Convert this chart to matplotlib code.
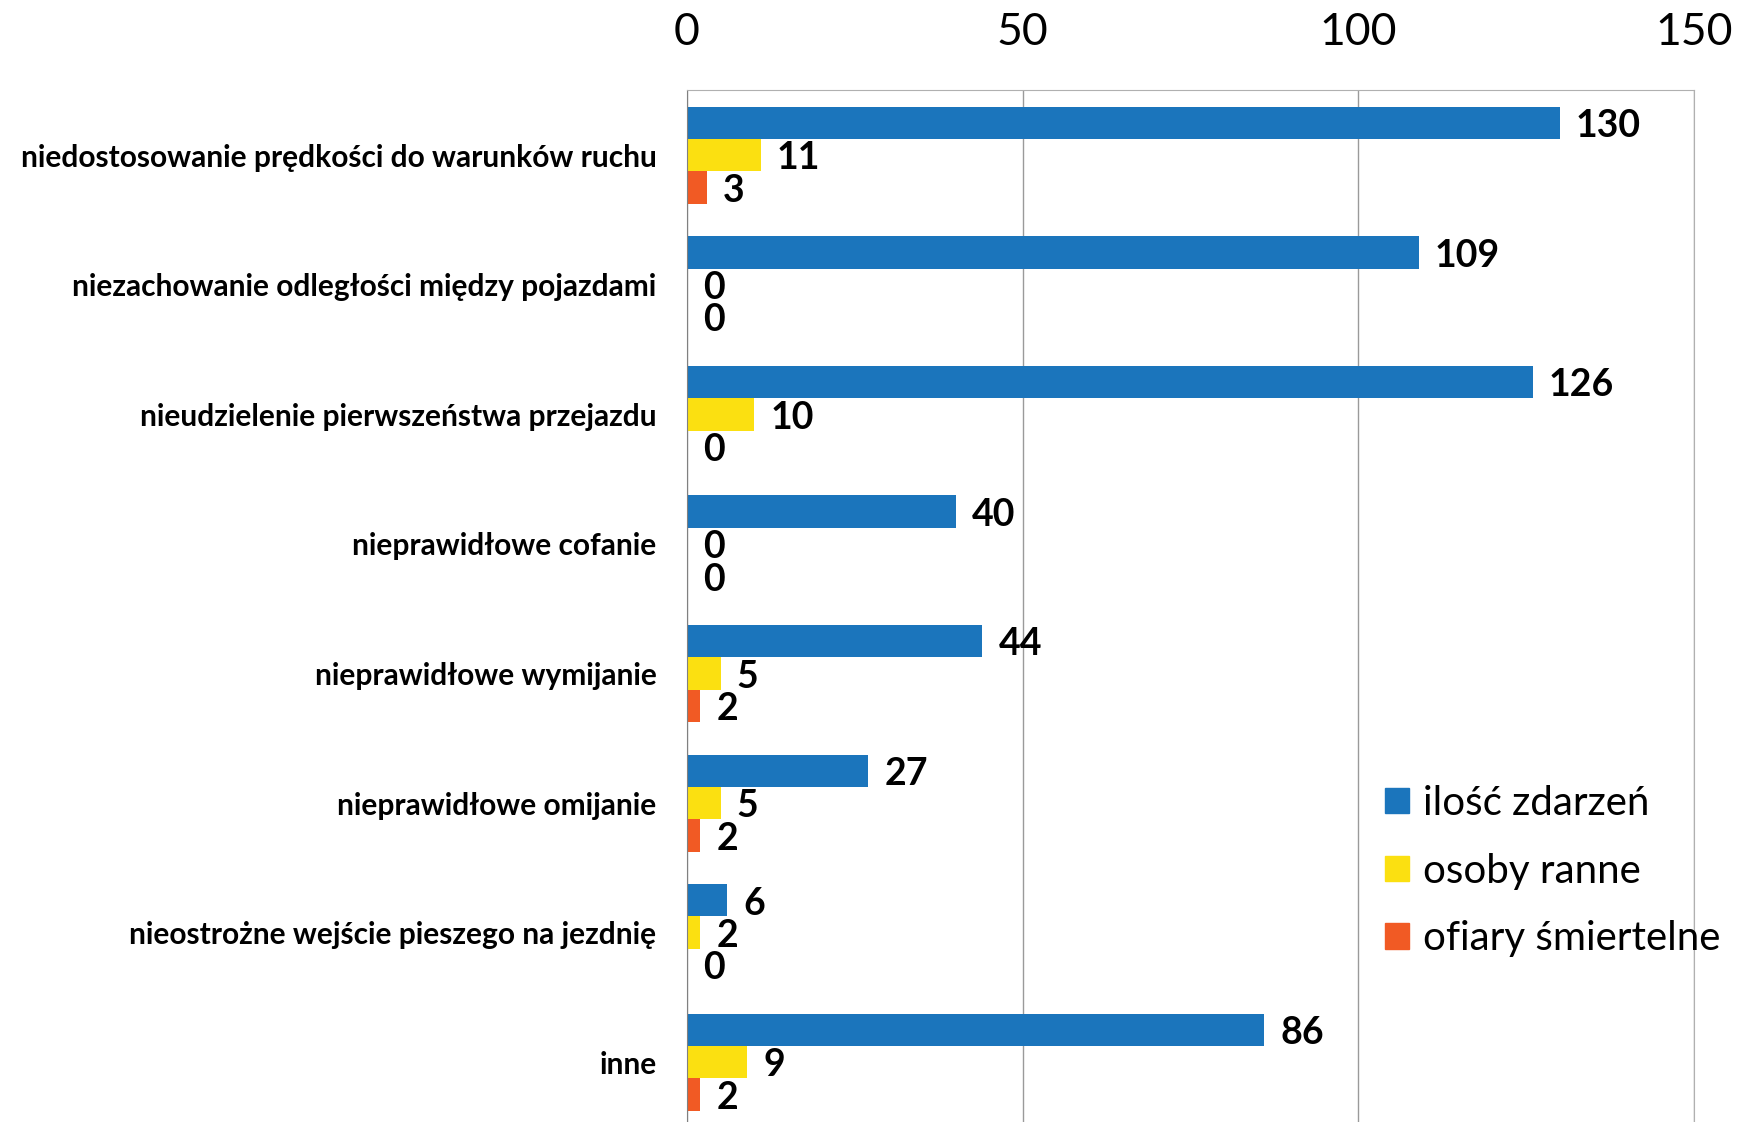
import numpy as np
import matplotlib.pyplot as plt
from matplotlib.patches import Patch

plt.rcParams['font.family'] = ['Lato', 'DejaVu Sans']

categories = [
    'niedostosowanie prędkości do warunków ruchu',
    'niezachowanie odległości między pojazdami',
    'nieudzielenie pierwszeństwa przejazdu',
    'nieprawidłowe cofanie',
    'nieprawidłowe wymijanie',
    'nieprawidłowe omijanie',
    'nieostrożne wejście pieszego na jezdnię',
    'inne',
]
zdarzenia = [130, 109, 126, 40, 44, 27, 6, 86]
ranne = [11, 0, 10, 0, 5, 5, 2, 9]
smiertelne = [3, 0, 0, 0, 2, 2, 0, 2]

series = [
    ('ilość zdarzeń', zdarzenia, '#1b75bc'),
    ('osoby ranne', ranne, '#fbe011'),
    ('ofiary śmiertelne', smiertelne, '#f15a24'),
]

fig = plt.figure(figsize=(17.38, 11.22), dpi=100)
ax = fig.add_axes([0.3953, -0.0045, 0.5794, 0.9239])

y = np.arange(len(categories))
h = 0.25
for k, (name, vals, col) in enumerate(series):
    pos = y + (k - 1) * h
    ax.barh(pos, vals, height=h, color=col, label=name, zorder=2)
    for p, v in zip(pos, vals):
        ax.text(v + 2.4, p + 0.025, str(v), va='center', ha='left',
                fontsize=27, fontweight='bold', color='black', zorder=3)

ax.set_xlim(0, 150)
ax.set_ylim(len(categories) - 0.5, -0.5)
ax.set_xticks([0, 50, 100, 150])
ax.xaxis.tick_top()
ax.tick_params(axis='x', length=0, pad=27, labelsize=32)
ax.set_yticks(y)
ax.set_yticklabels(categories, fontsize=21.5, fontweight='bold')
ax.tick_params(axis='y', length=0, pad=22)
ax.grid(axis='x', color='#9a9a9a', linewidth=1, zorder=0)

for s in ['top', 'right', 'bottom']:
    ax.spines[s].set_color('#b0b0b0')
ax.spines['left'].set_color('#808080')

handles = [Patch(color=c, label=n) for n, _, c in series]
ax.legend(handles=handles, loc='center left', bbox_to_anchor=(0.657, 0.247),
          frameon=False, fontsize=29, handlelength=0.6, handleheight=0.6,
          handletextpad=0.35, labelspacing=0.76)

fig.savefig('out.png', dpi=100)
